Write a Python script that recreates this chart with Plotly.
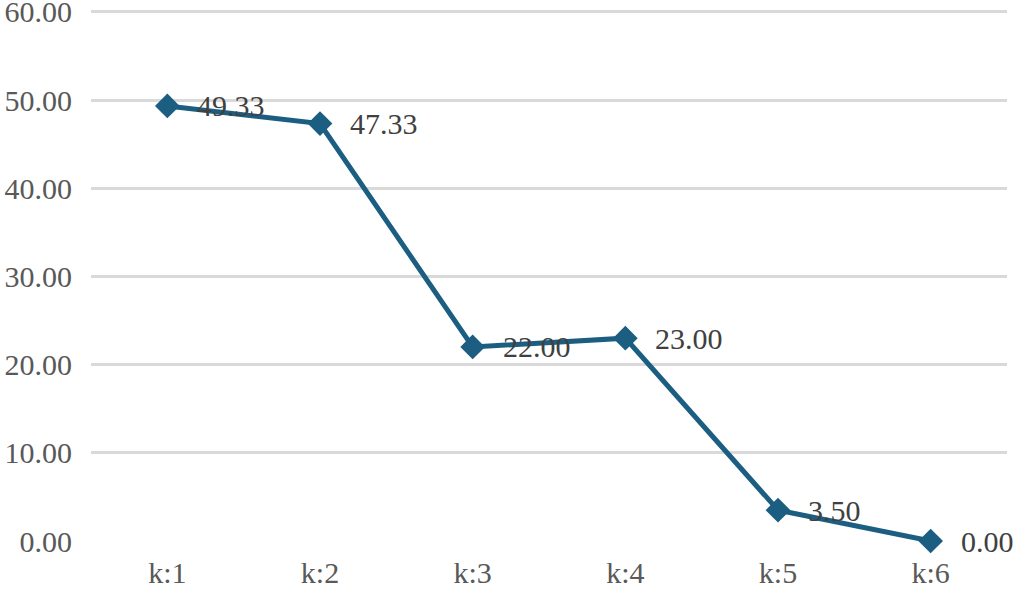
import plotly.graph_objects as go

categories = ["k:1", "k:2", "k:3", "k:4", "k:5", "k:6"]
values = [49.33, 47.33, 22.00, 23.00, 3.50, 0.00]
y_ticks = [0, 10, 20, 30, 40, 50, 60]

LINE = "#1b5e82"
FONT = "Liberation Serif, Times New Roman, serif"

fig = go.Figure()
fig.add_trace(go.Scatter(
    x=categories, y=values, mode="lines+markers",
    line=dict(color=LINE, width=5),
    marker=dict(symbol="diamond", size=19, color=LINE),
    showlegend=False, hoverinfo="skip", cliponaxis=False,
))

for c, v in zip(categories, values):
    fig.add_annotation(x=c, y=v, text=f"{v:.2f}", showarrow=False,
                       xanchor="left", yanchor="middle", xshift=28, yshift=0,
                       font=dict(family=FONT, size=30, color="#404040"))

fig.update_layout(
    width=1017, height=590,
    margin=dict(l=91, r=10, t=3, b=49),
    paper_bgcolor="white", plot_bgcolor="white",
    font=dict(family=FONT, size=30, color="#595959"),
)
fig.update_xaxes(type="category", range=[-0.5, 5.5], showgrid=False, showline=False,
                 zeroline=False, ticks="outside", ticklen=5, tickcolor="rgba(0,0,0,0)",
                 automargin=False, ticklabeloverflow="allow")
fig.update_yaxes(range=[0, 61], tickvals=y_ticks, ticktext=[f"{t:.2f}" for t in y_ticks],
                 showgrid=True, gridcolor="#d9d9d9", gridwidth=3, zeroline=False,
                 showline=False, ticks="outside", ticklen=12, tickcolor="rgba(0,0,0,0)",
                 automargin=False, ticklabeloverflow="allow")

fig.write_html("out.html")
